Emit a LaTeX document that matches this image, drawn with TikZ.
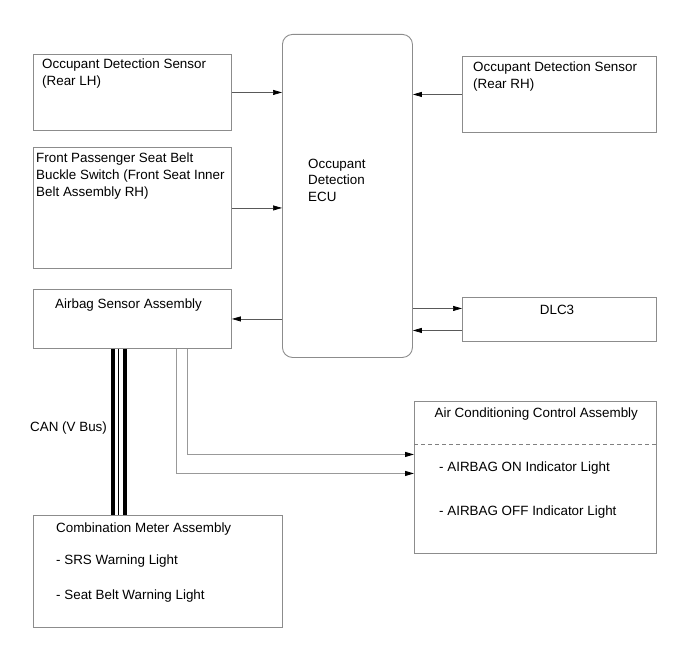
\documentclass[tikz,border=0pt]{standalone}
\usepackage{fontspec}
\setmainfont{Liberation Sans}
\usetikzlibrary{arrows.meta}
\begin{document}
\begin{tikzpicture}[x=1pt,y=-1pt,
  box/.style={draw=black!45, line width=0.9pt, anchor=north west, inner sep=0pt},
  conn/.style={draw=black!65, line width=0.7pt},
  tip/.style={-{Triangle[length=9pt,width=5pt,color=black]}},
  arr/.style={conn, tip},
  gline/.style={draw=black!40, line width=1pt},
  txt/.style={inner sep=0pt, font=\fontsize{13.4}{16.8}\selectfont},
  mtxt/.style={txt, align=left, anchor=north west}]
\useasboundingbox (0,0) rectangle (690,660);
% boxes
\node[box, minimum width=198pt, minimum height=76pt] (rlh) at (33,54) {};
\node[box, minimum width=198pt, minimum height=121pt] (fps) at (33,147) {};
\node[box, minimum width=198pt, minimum height=59pt] (ab) at (33,289) {};
\node[box, minimum width=130pt, minimum height=323pt, rounded corners=10pt] (ecu) at (282,34) {};
\node[box, minimum width=194pt, minimum height=76pt] (rrh) at (462,56) {};
\node[box, minimum width=194pt, minimum height=44pt] (dlc) at (462,297) {};
\node[box, minimum width=242pt, minimum height=152pt] (ac) at (414,401) {};
\node[box, minimum width=249pt, minimum height=112pt] (comb) at (33,515) {};
% texts
\node[mtxt] (trlh) at (42,58.5) {Occupant Detection Sensor\\(Rear LH)};
\node[mtxt] (tfps) at (36,152.6) {Front Passenger Seat Belt\\Buckle Switch (Front Seat Inner\\Belt Assembly RH)};
\node[txt, anchor=base west] (tab) at (55,308.3) {Airbag Sensor Assembly};
\node[mtxt] (tecu) at (308,158.6) {Occupant\\Detection\\ECU};
\node[mtxt] (trrh) at (473,61.6) {Occupant Detection Sensor\\(Rear RH)};
\node[txt, anchor=base] (tdlc) at (557,314.3) {DLC3};
\node[txt, anchor=base] (tac) at (536.3,417.6) {Air Conditioning Control Assembly};
\node[txt, anchor=base west] (ton) at (439,471.6) {- AIRBAG ON Indicator Light};
\node[txt, anchor=base west] (toff) at (439,515.5) {- AIRBAG OFF Indicator Light};
\node[txt, anchor=base west] (tcomb) at (56,532.6) {Combination Meter Assembly};
\node[txt, anchor=base west] (tsrs) at (56,564.3) {- SRS Warning Light};
\node[txt, anchor=base west] (tsb) at (56,599) {- Seat Belt Warning Light};
\node[txt, anchor=base west] (tcan) at (30,431.3) {CAN (V Bus)};
% dashed separator
\draw[draw=black!50, line width=0.7pt, dash pattern=on 4pt off 3pt] ([yshift=-43pt]ac.north west) -- ([yshift=-43pt]ac.north east);
% connectors
\draw[arr] (rlh.east) -- (rlh.east -| ecu.west);
\draw[arr] (fps.east) -- (fps.east -| ecu.west);
\draw[arr] (ecu.west |- ab.east) -- (ab.east);
\draw[arr] (rrh.west) -- (rrh.west -| ecu.east);
\draw[arr] ([yshift=11pt]dlc.west -| ecu.east) -- ([yshift=11pt]dlc.west);
\draw[arr] ([yshift=-11pt]dlc.west) -- ([yshift=-11pt]dlc.west -| ecu.east);
\draw[gline, tip] ([xshift=154pt]ab.south west) |- ([yshift=23pt]ac.west);
\draw[gline, tip] ([xshift=143pt]ab.south west) |- ([yshift=4pt]ac.west);
% CAN bus
\draw[line width=4pt] ([xshift=80pt]ab.south west) -- ([xshift=80pt]comb.north west);
\draw[line width=4pt] ([xshift=91.5pt]ab.south west) -- ([xshift=91.5pt]comb.north west);
\draw[line width=1pt] ([xshift=85.5pt]ab.south west) -- ([xshift=85.5pt]comb.north west);
\end{tikzpicture}
\end{document}
